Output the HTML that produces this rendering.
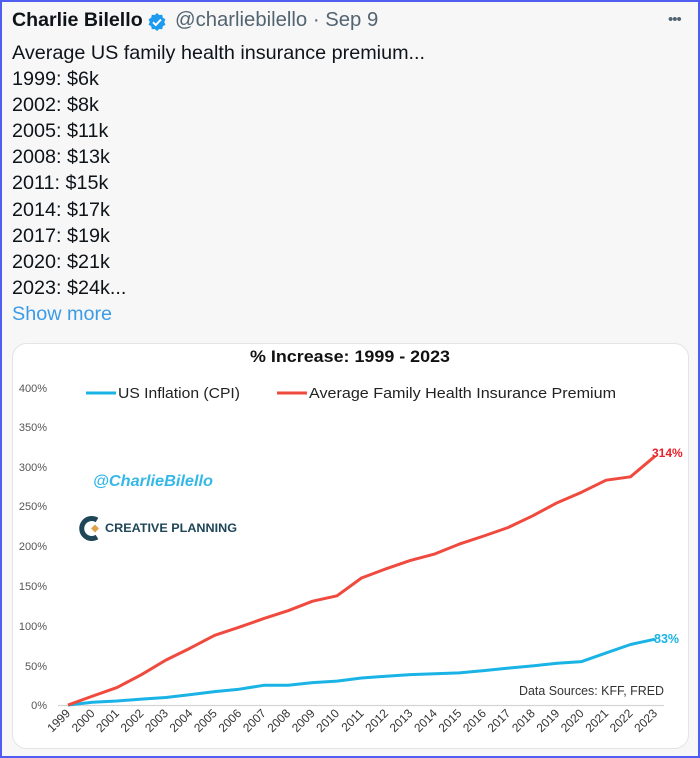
<!DOCTYPE html>
<html><head><meta charset="utf-8"><style>
html,body{margin:0;padding:0}
body{width:700px;height:758px;position:relative;overflow:hidden;background:#f7f7f8;font-family:"Liberation Sans",sans-serif}
.frame{position:absolute;left:0;top:0;width:696px;height:754px;border:2px solid #4f5df0}
.t{position:absolute;left:12px;color:#0f1419;font-size:19.8px;white-space:nowrap}
</style></head><body>
<div class="frame"></div>
<div class="t" style="top:9px;font-weight:bold;font-size:19.6px">Charlie Bilello</div>
<svg style="position:absolute;left:147px;top:12px" width="20" height="20" viewBox="0 0 20 20"><path d="M10 1 L12.2 3 L15.2 2.8 L15.8 5.7 L18.4 7.3 L17.3 10 L18.4 12.7 L15.8 14.3 L15.2 17.2 L12.2 17 L10 19 L7.8 17 L4.8 17.2 L4.2 14.3 L1.6 12.7 L2.7 10 L1.6 7.3 L4.2 5.7 L4.8 2.8 L7.8 3 Z" fill="#1d9bf0"/><path d="M6 10.2 L8.8 13 L14 7.5" stroke="#fff" stroke-width="2" fill="none"/></svg>
<div class="t" style="top:9px;left:175px;color:#536471;font-size:20.3px">@charliebilello · Sep 9</div>
<div style="position:absolute;left:668px;top:11px;color:#536471;font-size:15px;letter-spacing:-1px">•••</div>
<div class="t" style="top:40px;line-height:26.1px">Average US family health insurance premium...<br>1999: $6k<br>2002: $8k<br>2005: $11k<br>2008: $13k<br>2011: $15k<br>2014: $17k<br>2017: $19k<br>2020: $21k<br>2023: $24k...<br><span style="color:#3a9be6">Show more</span></div>
<svg style="position:absolute;left:0;top:0" width="700" height="758">
<rect x="12.5" y="343.5" width="676" height="405" rx="14" fill="#fff" stroke="#e4e4e4"/>
<text x="350" y="362" text-anchor="middle" font-weight="bold" font-size="16.5" fill="#111" textLength="200" lengthAdjust="spacingAndGlyphs">% Increase: 1999 - 2023</text>
<line x1="86" y1="393" x2="116" y2="393" stroke="#1ab3e6" stroke-width="3"/>
<text x="118" y="398" font-size="14.5" fill="#222" textLength="122" lengthAdjust="spacingAndGlyphs">US Inflation (CPI)</text>
<line x1="277" y1="393" x2="307" y2="393" stroke="#f04a3e" stroke-width="3"/>
<text x="309" y="398" font-size="14.5" fill="#222" textLength="307" lengthAdjust="spacingAndGlyphs">Average Family Health Insurance Premium</text>
<g font-size="11" fill="#555" text-anchor="end">
<text x="47" y="392">400%</text><text x="47" y="431">350%</text><text x="47" y="471">300%</text><text x="47" y="510">250%</text><text x="47" y="550">200%</text><text x="47" y="590">150%</text><text x="47" y="630">100%</text><text x="47" y="670">50%</text><text x="47" y="709">0%</text>
</g>
<line x1="58" y1="705.5" x2="664" y2="705.5" stroke="#d4d4d4" stroke-width="1.2"/>
<text x="93" y="486" font-size="16" font-style="italic" font-weight="bold" fill="#35b8e8" textLength="120" lengthAdjust="spacingAndGlyphs">@CharlieBilello</text>
<path d="M97 520 A10 10 0 1 0 97 537" stroke="#1e4658" stroke-width="5" fill="none"/>
<path d="M91 528.5 L95 524.5 L99 528.5 L95 532.5 Z" fill="#e0a24a"/>
<text x="105" y="532" font-size="11.5" font-weight="bold" fill="#1e4658" textLength="132" lengthAdjust="spacingAndGlyphs">CREATIVE PLANNING</text>
<text x="664" y="695" text-anchor="end" font-size="13" fill="#333" textLength="145" lengthAdjust="spacingAndGlyphs">Data Sources: KFF, FRED</text>
<polyline fill="none" stroke="#1ab3e6" stroke-width="3" stroke-linejoin="round" points="68,705 92.5,702.3 116.9,701 141.4,699.1 165.8,697.5 190.3,694.6 214.7,691.6 239.2,689.2 263.7,685.3 288.1,685.3 312.6,682.6 337,681.1 361.5,678 386,676.2 410.4,674.6 434.9,673.7 459.3,672.9 483.8,670.6 508.2,668.1 532.7,665.9 557.2,663.2 581.6,661.6 606.1,652.9 630.5,644.5 655,639.2"/>
<polyline fill="none" stroke="#f04a3e" stroke-width="3" stroke-linejoin="round" points="68,705 92.5,696.1 116.9,687.6 141.4,674.7 165.8,660.1 190.3,648.1 214.7,635.3 239.2,627.2 263.7,618.6 288.1,610.7 312.6,601.2 337,595.8 361.5,578 386,568.8 410.4,560.4 434.9,553.9 459.3,544.1 483.8,536 508.2,527.5 532.7,515.8 557.2,502.7 581.6,492.2 606.1,480.2 630.5,476.8 655,456.2"/>
<text x="652" y="457" font-size="12" font-weight="bold" fill="#e8202a">314%</text>
<text x="654" y="643" font-size="12.5" font-weight="bold" fill="#1ab3e6">83%</text>
<g font-size="12" fill="#333" text-anchor="end">
<text transform="translate(71,714) rotate(-45)">1999</text>
<text transform="translate(95.5,714) rotate(-45)">2000</text>
<text transform="translate(119.9,714) rotate(-45)">2001</text>
<text transform="translate(144.4,714) rotate(-45)">2002</text>
<text transform="translate(168.8,714) rotate(-45)">2003</text>
<text transform="translate(193.3,714) rotate(-45)">2004</text>
<text transform="translate(217.7,714) rotate(-45)">2005</text>
<text transform="translate(242.2,714) rotate(-45)">2006</text>
<text transform="translate(266.7,714) rotate(-45)">2007</text>
<text transform="translate(291.1,714) rotate(-45)">2008</text>
<text transform="translate(315.6,714) rotate(-45)">2009</text>
<text transform="translate(340,714) rotate(-45)">2010</text>
<text transform="translate(364.5,714) rotate(-45)">2011</text>
<text transform="translate(389,714) rotate(-45)">2012</text>
<text transform="translate(413.4,714) rotate(-45)">2013</text>
<text transform="translate(437.9,714) rotate(-45)">2014</text>
<text transform="translate(462.3,714) rotate(-45)">2015</text>
<text transform="translate(486.8,714) rotate(-45)">2016</text>
<text transform="translate(511.2,714) rotate(-45)">2017</text>
<text transform="translate(535.7,714) rotate(-45)">2018</text>
<text transform="translate(560.2,714) rotate(-45)">2019</text>
<text transform="translate(584.6,714) rotate(-45)">2020</text>
<text transform="translate(609.1,714) rotate(-45)">2021</text>
<text transform="translate(633.5,714) rotate(-45)">2022</text>
<text transform="translate(658,714) rotate(-45)">2023</text>
</g>
</svg>
</body></html>
